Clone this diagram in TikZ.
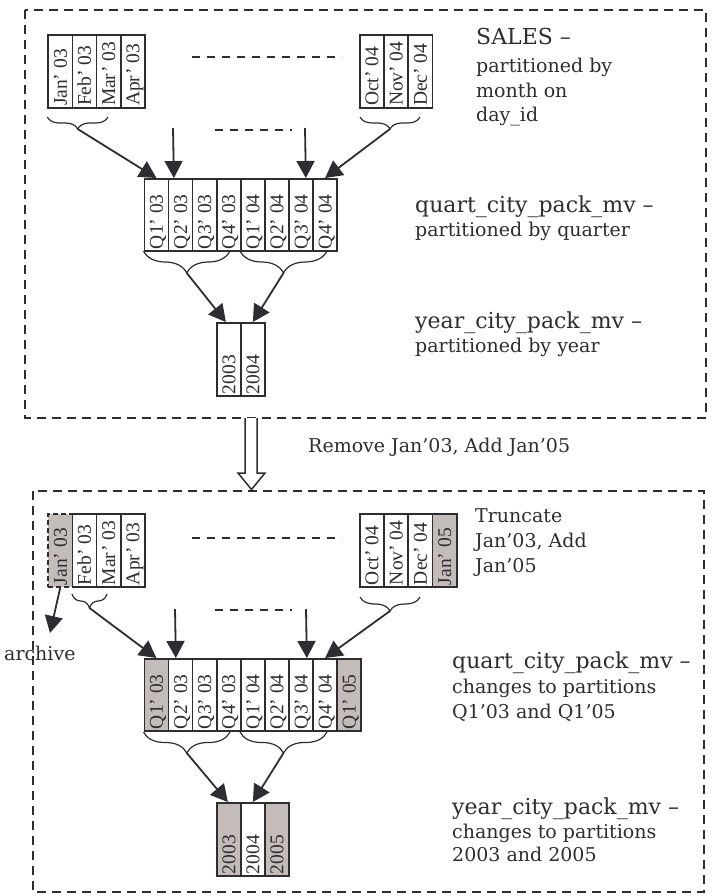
\documentclass[tikz,border=0pt]{standalone}
\usepackage{fontspec}
\setmainfont{DejaVu Serif}
\newfontfamily\cellfont{Liberation Serif}
\usetikzlibrary{arrows.meta,decorations.pathreplacing}
\definecolor{ink}{RGB}{45,45,50}
\definecolor{shade}{RGB}{196,188,184}
\newcommand\pc[6][]{%
  \node[#2,#1] (#3) at (#4,#5) {};
  \node[lab] (#3t) at (#3.south) {#6};}
\begin{document}
\begin{tikzpicture}[x=1pt,y=-1pt,
  cellbox/.style={draw=ink, line width=1.7pt, minimum width=24.2pt, minimum height=73pt, inner sep=0pt, anchor=north west},
  qbox/.style={cellbox, minimum width=24.1pt, minimum height=72pt},
  ybox/.style={cellbox, minimum width=24pt, minimum height=73pt},
  gone/.style={fill=shade},
  lab/.style={rotate=90, anchor=west, inner xsep=2.5pt, inner ysep=0pt, text height=13pt, text depth=0pt, font=\cellfont\fontsize{19.5}{20}\selectfont, text=ink},
  frame/.style={draw=ink, line width=1.5pt, dash pattern=on 9pt off 6pt},
  gapline/.style={draw=ink, line width=1.5pt, dash pattern=on 8pt off 7pt},
  conn/.style={draw=ink, line width=1.8pt, -{Triangle[length=17pt,width=18pt]}},
  brc/.style={draw=ink, line width=1.2pt, decorate, decoration={brace, mirror, amplitude=#1}},
  big/.style={font=\fontsize{22}{26}\selectfont, text=ink, anchor=base west, inner sep=0pt},
  txt/.style={font=\fontsize{19}{23}\selectfont, text=ink, anchor=base west, inner sep=0pt},
]
\fill[white] (0,0) rectangle (713,896);
\useasboundingbox (0,0) rectangle (713,896);

% ---------- frames ----------
\draw[frame] (25,10) rectangle (706,418);
\draw[frame] (33,491) rectangle (704,892);

% ---------- top: months ----------
\pc{cellbox}{m1}{47.3}{34}{Jan’ 03}
\pc{cellbox}{m2}{71.5}{34}{Feb’ 03}
\pc{cellbox}{m3}{95.7}{34}{Mar’ 03}
\pc{cellbox}{m4}{119.9}{34}{Apr’ 03}
\pc{cellbox}{m5}{359}{34}{Oct’ 04}
\pc{cellbox}{m6}{383.2}{34}{Nov’ 04}
\pc{cellbox}{m7}{407.4}{34}{Dec’ 04}
\draw[gapline] (192,57) -- (342,57);
\draw[gapline] (215,130) -- (292,130);

% ---------- top: quarters ----------
\pc{qbox}{q1}{143.5}{178}{Q1’ 03}
\pc{qbox}{q2}{167.6}{178}{Q2’ 03}
\pc{qbox}{q3}{191.7}{178}{Q3’ 03}
\pc{qbox}{q4}{215.8}{178}{Q4’ 03}
\pc{qbox}{q5}{239.9}{178}{Q1’ 04}
\pc{qbox}{q6}{264.0}{178}{Q2’ 04}
\pc{qbox}{q7}{288.1}{178}{Q3’ 04}
\pc{qbox}{q8}{312.2}{178}{Q4’ 04}

% ---------- top: years ----------
\pc{ybox}{y1}{216}{322}{2003}
\pc{ybox}{y2}{240}{322}{2004}

% ---------- top: braces and arrows ----------
\draw[brc=12pt] (47.3,117) -- (108,117);
\draw[brc=12pt] (360,117) -- (420,117);
\draw[brc=22pt] (143.5,251) -- (230,251);
\draw[brc=22pt] (240,251) -- (327,251);
\coordinate (bA) at (77.65,129);
\coordinate (bB) at (390,129);
\coordinate (bC) at (186.75,273);
\coordinate (bD) at (283.5,273);
\coordinate (vA) at (173,128);
\coordinate (vB) at (305,128);
\draw[conn] (bA) -- (q1.north);
\draw[conn] (vA) -- ([xshift=-6.6pt]q2.north);
\draw[conn] (vB) -- ([xshift=4.85pt]q7.north);
\draw[conn] (bB) -- (q8.north);
\draw[conn] (bC) -- ([xshift=-3pt]y1.north);
\draw[conn] (bD) -- (y2.north);

% ---------- top: texts ----------
\node[big] (tS1) at (476,45) {SALES –};
\node[txt] (tS2) at (476,73) {partitioned by};
\node[txt] (tS3) at (476,98) {month on};
\node[txt] (tS4) at (476,122) {day\_id};
\node[big] (tQ1) at (415,212) {quart\_city\_pack\_mv –};
\node[txt] (tQ2) at (415,236) {partitioned by quarter};
\node[big] (tY1) at (415,328) {year\_city\_pack\_mv –};
\node[txt] (tY2) at (415,352) {partitioned by year};

% ---------- transition ----------
\draw[ink, line width=1.5pt, fill=white] (245,418) -- (245,473) -- (238,473) -- (251.5,489.5) -- (265,473) -- (257,473) -- (257,418);
\node[txt] (tR) at (308,452) {Remove Jan’03, Add Jan’05};

% ---------- bottom: months ----------
\pc[gone, dash pattern=on 5pt off 3pt]{cellbox}{n1}{47.3}{513}{Jan’ 03}
\pc{cellbox}{n2}{71.5}{513}{Feb’ 03}
\pc{cellbox}{n3}{95.7}{513}{Mar’ 03}
\pc{cellbox}{n4}{119.9}{513}{Apr’ 03}
\pc{cellbox}{n5}{359}{513}{Oct’ 04}
\pc{cellbox}{n6}{383.2}{513}{Nov’ 04}
\pc{cellbox}{n7}{407.4}{513}{Dec’ 04}
\pc[gone]{cellbox}{n8}{431.6}{513}{Jan’ 05}
\draw[gapline] (192,538) -- (342,538);
\draw[gapline] (215,610) -- (292,610);

% ---------- bottom: quarters ----------
\pc[gone]{qbox}{r1}{143.5}{658}{Q1’ 03}
\pc{qbox}{r2}{167.6}{658}{Q2’ 03}
\pc{qbox}{r3}{191.7}{658}{Q3’ 03}
\pc{qbox}{r4}{215.8}{658}{Q4’ 03}
\pc{qbox}{r5}{239.9}{658}{Q1’ 04}
\pc{qbox}{r6}{264.0}{658}{Q2’ 04}
\pc{qbox}{r7}{288.1}{658}{Q3’ 04}
\pc{qbox}{r8}{312.2}{658}{Q4’ 04}
\pc[gone]{qbox}{r9}{336.3}{658}{Q1’ 05}

% ---------- bottom: years ----------
\pc[gone]{ybox}{z1}{216}{802}{2003}
\pc{ybox}{z2}{240}{802}{2004}
\pc[gone]{ybox}{z3}{264}{802}{2005}

% ---------- bottom: braces and arrows ----------
\draw[brc=14pt] (72,594) -- (107,594);
\draw[brc=14pt] (360,597) -- (420,597);
\draw[brc=21pt] (143.5,732) -- (230,732);
\draw[brc=21pt] (240,732) -- (327,732);
\coordinate (bE) at (89.5,608);
\coordinate (bF) at (390,611);
\coordinate (bG) at (186.75,753);
\coordinate (bH) at (283.5,753);
\coordinate (vC) at (175,609);
\coordinate (vD) at (306,609);
\coordinate (arcTip) at (50,633);
\draw[conn] (bE) -- (r1.north);
\draw[conn] (vC) -- ([xshift=-4.65pt]r2.north);
\draw[conn] (vD) -- ([xshift=5.85pt]r7.north);
\draw[conn] (bF) -- (r8.north);
\draw[conn] (bG) -- ([xshift=-1pt]z1.north);
\draw[conn] (bH) -- (z2.north);
\draw[conn] (n1.south) -- (arcTip);
\node[txt] (arch) at (4,660) {archive};

% ---------- bottom: texts ----------
\node[txt] (tT1) at (475,522) {Truncate};
\node[txt] (tT2) at (475,547) {Jan’03, Add};
\node[txt] (tT3) at (475,572) {Jan’05};
\node[big] (tq1) at (452,668) {quart\_city\_pack\_mv –};
\node[txt] (tq2) at (452,693) {changes to partitions};
\node[txt] (tq3) at (452,718) {Q1’03 and Q1’05};
\node[big] (ty1) at (452,814) {year\_city\_pack\_mv –};
\node[txt] (ty2) at (452,838) {changes to partitions};
\node[txt] (ty3) at (452,861) {2003 and 2005};
\end{tikzpicture}
\end{document}
